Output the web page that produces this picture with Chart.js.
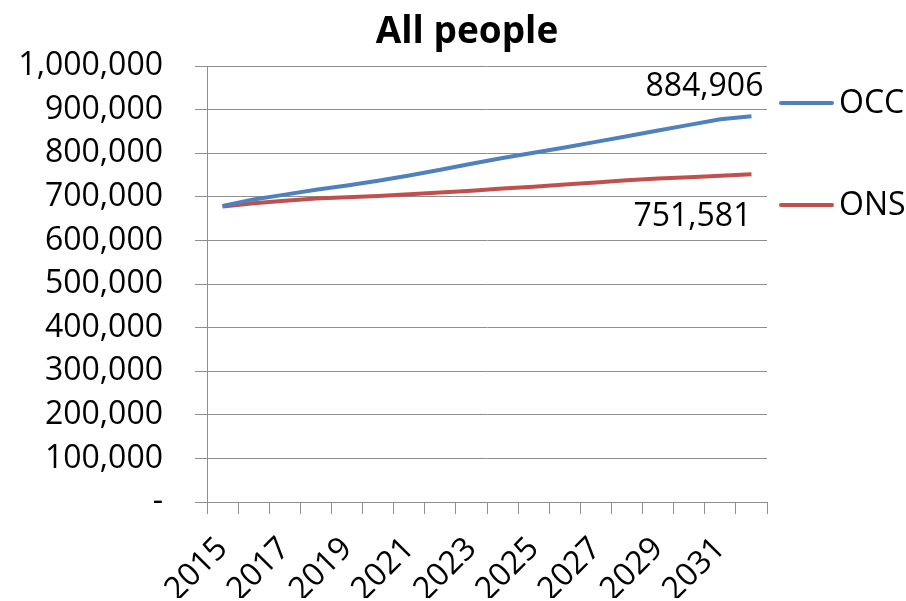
<!DOCTYPE html>
<html>
<head>
<meta charset="utf-8">
<script src="https://cdn.jsdelivr.net/npm/chart.js@4/dist/chart.umd.min.js"></script>
<style>
  html, body { margin: 0; padding: 0; background: #fff; }
  #wrap { width: 906px; height: 601px; }
</style>
</head>
<body>
<div id="wrap"><canvas id="popChart" width="906" height="601"></canvas></div>
<script>
// Population projections, all people
const years = ['2015', '2016', '2017', '2018', '2019', '2020', '2021', '2022', '2023',
  '2024', '2025', '2026', '2027', '2028', '2029', '2030', '2031', '2032'];
const occ = [679000, 694000, 705000, 716000, 726000, 737000, 749000, 762000, 776000,
  789000, 801000, 813000, 826000, 839000, 852000, 865000, 878000, 884906];
const ons = [678000, 685000, 691000, 696000, 699000, 702000, 706000, 710000, 714000,
  719000, 723000, 728000, 733000, 738000, 742000, 745000, 748000, 751581];
const seriesNames = ['OCC', 'ONS'];
const seriesColors = ['#4F81BD', '#C0504D'];
const chartTitle = 'All people';

const FONT = "'Open Sans', 'Liberation Sans', sans-serif";
const fmt = v => v === 0 ? '-' : Number(v).toLocaleString('en-GB');

// title, centred a bit left of the plot centre
const topTitle = {
  id: 'topTitle',
  afterDraw(chart) {
    const ctx = chart.ctx;
    ctx.save();
    ctx.font = 'bold 37px ' + FONT;
    ctx.fillStyle = '#000';
    ctx.textAlign = 'center';
    ctx.textBaseline = 'middle';
    ctx.fillText(chartTitle, chart.chartArea.left + 260, 32);
    ctx.restore();
  }
};

// value label next to the last point of each line
const endLabels = {
  id: 'endLabels',
  afterDatasetsDraw(chart) {
    const ctx = chart.ctx;
    ctx.save();
    ctx.font = '32px ' + FONT;
    ctx.fillStyle = '#000';
    ctx.textAlign = 'right';
    ctx.textBaseline = 'middle';
    const offsets = [{ dx: 12, dy: -29 }, { dx: 0, dy: 43 }];
    chart.data.datasets.forEach((ds, i) => {
      const pts = chart.getDatasetMeta(i).data;
      const p = pts[pts.length - 1];
      ctx.fillText(fmt(ds.data[ds.data.length - 1]), p.x + offsets[i].dx, p.y + offsets[i].dy);
    });
    ctx.restore();
  }
};

// legend on the right, entries spread out
const sideLegend = {
  id: 'sideLegend',
  afterDraw(chart) {
    const ctx = chart.ctx;
    const area = chart.chartArea;
    const rows = [area.top + 37, area.top + 139];
    ctx.save();
    ctx.font = '32px ' + FONT;
    ctx.textBaseline = 'middle';
    ctx.textAlign = 'left';
    chart.data.datasets.forEach((ds, i) => {
      const x = area.right + 14;
      const y = rows[i];
      ctx.strokeStyle = ds.borderColor;
      ctx.lineWidth = 4;
      ctx.lineCap = 'round';
      ctx.beginPath();
      ctx.moveTo(x, y);
      ctx.lineTo(x + 51, y);
      ctx.stroke();
      ctx.fillStyle = '#000';
      ctx.fillText(ds.label, x + 58, y + 1);
    });
    ctx.restore();
  }
};

new Chart(document.getElementById('popChart'), {
  type: 'line',
  data: {
    labels: years,
    datasets: [occ, ons].map((d, i) => ({
      label: seriesNames[i],
      data: d,
      borderColor: seriesColors[i],
      backgroundColor: seriesColors[i],
      borderWidth: 4,
      pointRadius: 0,
      tension: 0,
      fill: false
    }))
  },
  options: {
    responsive: false,
    animation: false,
    layout: { padding: { left: 15, right: 139, top: 66, bottom: 3 } },
    plugins: {
      legend: { display: false },
      tooltip: { enabled: false },
      title: { display: false }
    },
    scales: {
      x: {
        offset: true,
        grid: { offset: true, drawOnChartArea: false, tickLength: 12, color: '#8f8f8f' },
        border: { color: '#8f8f8f' },
        afterFit: s => { s.paddingLeft = 0; s.height = 96; },
        ticks: {
          autoSkip: false,
          maxRotation: 45,
          minRotation: 45,
          padding: 16,
          color: '#000',
          font: { family: FONT, size: 32 },
          callback: function (v, i) { return i % 2 === 0 ? this.getLabelForValue(v) : ''; }
        }
      },
      y: {
        min: 0,
        max: 1000000,
        grid: { color: '#8f8f8f', tickLength: 12 },
        border: { color: '#8f8f8f' },
        afterFit: s => { s.width = 192; },
        ticks: {
          stepSize: 100000,
          padding: 32,
          color: '#000',
          font: { family: FONT, size: 32 },
          callback: v => fmt(v)
        }
      }
    }
  },
  plugins: [topTitle, endLabels, sideLegend]
});
</script>
</body>
</html>
